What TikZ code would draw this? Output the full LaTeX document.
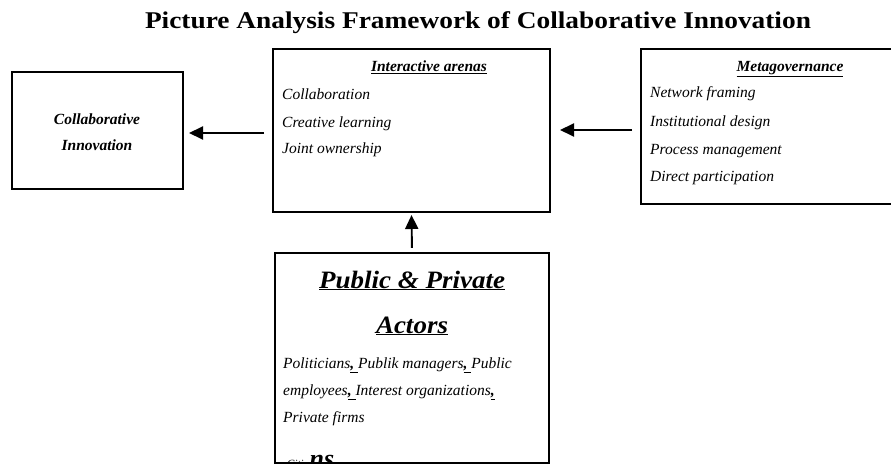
\documentclass[tikz,border=0pt]{standalone}
\usepackage{fontspec}
\setmainfont{Liberation Serif}
\usetikzlibrary{arrows.meta}
\begin{document}
\begin{tikzpicture}[x=1pt,y=-1pt,
  box/.style={draw, line width=2pt, inner sep=0pt, fill=white},
  arr/.style={line width=1.9pt, -{Triangle[length=14pt,width=13pt]}},
  item/.style={anchor=base west, inner sep=0pt, font=\fontsize{15.5}{18}\selectfont\itshape},
  head/.style={anchor=base, inner sep=0pt, font=\fontsize{15.5}{18}\selectfont\bfseries\itshape},
  big/.style={anchor=base, inner sep=0pt, font=\fontsize{25}{30}\selectfont\bfseries\itshape},
  ttl/.style={anchor=base, inner sep=0pt, font=\fontsize{24}{28}\selectfont\bfseries},
]
\clip (0,0) rectangle (891,465);
\fill[white] (0,0) rectangle (891,465);
% title
\node[ttl] (title) at (478,29) {\scalebox{1.14}[1]{Picture Analysis Framework of Collaborative Innovation}};
% boxes
\node[box, minimum width=171pt, minimum height=117pt] (ci) at (97.5,130.5) {};
\node[box, minimum width=277pt, minimum height=163pt] (ia) at (411.5,130.5) {};
\node[box, minimum width=264pt, minimum height=155pt] (mg) at (773,126.5) {};
\node[inner sep=0pt, minimum width=274pt, minimum height=210pt] (pa) at (412,358) {};
% box 1
\node[head] (ci1) at (97,125) {Collaborative};
\node[head] (ci2) at (97,151) {Innovation};
% box 2
\node[head] (iah) at (429,72) {\underline{Interactive arenas}};
\node[item] (ia1) at (282,100) {Collaboration};
\node[item] (ia2) at (282,128) {Creative learning};
\node[item] (ia3) at (282,154) {Joint ownership};
% box 3
\node[head] (mgh) at (790,72) {\underline{Metagovernance}};
\node[item] (mg1) at (650,98) {Network framing};
\node[item] (mg2) at (650,127) {Institutional design};
\node[item] (mg3) at (650,155) {Process management};
\node[item] (mg4) at (650,182) {Direct participation};
% box 4
\node[big] (pah) at (412,288) {\scalebox{1.08}[1]{\underline{Public \& Private}}};
\node[big] (pah2) at (412,333) {\scalebox{1.08}[1]{\underline{Actors}}};
\node[item] (pa1) at (283,368) {Politicians\underline{\textbf{,}\ }Publik managers\underline{\textbf{,}\ }Public};
\node[item] (pa2) at (283,395) {employees\underline{\textbf{,}\ }Interest organizations\underline{\textbf{,}}};
\node[item] (pa3) at (283,422) {Private firms};
\begin{scope}
\clip (pa.south west) rectangle (pa.north east);
\node[anchor=base west, inner sep=0pt] (pa4) at (287,467) {{\fontsize{11}{12}\selectfont\itshape Citi}\hspace{6pt}{\fontsize{26}{30}\selectfont\bfseries\itshape ns}};
\end{scope}
\draw[line width=2pt] (pa.south west) rectangle (pa.north east);
% arrows
\draw[arr, shorten <=8pt, shorten >=5pt] ([yshift=-2.5pt]ia.west) -- ([yshift=-2.5pt]ci.east);
\draw[arr, shorten <=8pt, shorten >=9pt] ([yshift=-3.5pt]mg.west) -- ([yshift=-3.5pt]mg.west -| ia.east);
\draw[arr, shorten <=5pt, shorten >=2pt] (pa.north) -- (ia.south);
\end{tikzpicture}
\end{document}
